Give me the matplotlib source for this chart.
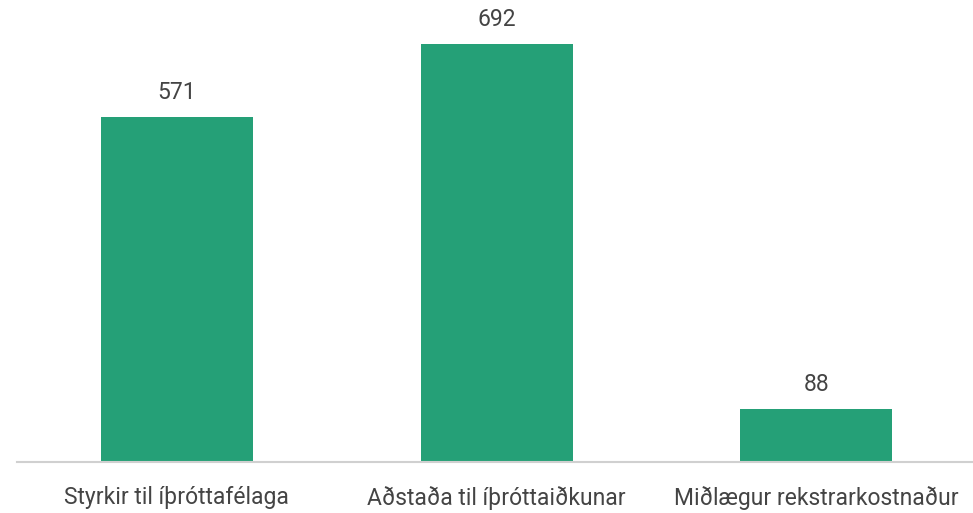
import matplotlib.pyplot as plt

flokkar = ['Styrkir til íþróttafélaga', 'Aðstaða til íþróttaiðkunar', 'Miðlægur rekstrarkostnaður']
gildi = [571, 692, 88]

plt.rcParams['font.family'] = ['Roboto', 'DejaVu Sans']

fig = plt.figure(figsize=(9.73, 5.13), dpi=100)
ax = fig.add_axes([17 / 973, 51 / 513, 1 - 17 / 973, 462 / 513])

x = range(len(flokkar))
ax.bar(x, gildi, width=0.476, color='#25a077')

for i, v in zip(x, gildi):
    ax.annotate(str(v), (i, v), xytext=(0, 13), textcoords='offset pixels',
                ha='center', va='bottom', fontsize=16.5, color='#444444')

ax.set_xlim(-0.5, 2.49)
ax.set_ylim(0, 765)
ax.set_yticks([])
ax.set_xticks(list(x))
ax.set_xticklabels(flokkar, fontsize=16.5, color='#444444')
ax.tick_params(axis='x', length=0, pad=17)
for s in ['top', 'right', 'left']:
    ax.spines[s].set_visible(False)
ax.spines['bottom'].set_color('#d0d0d0')
ax.spines['bottom'].set_linewidth(1.5)

fig.savefig('out.png', dpi=100)
